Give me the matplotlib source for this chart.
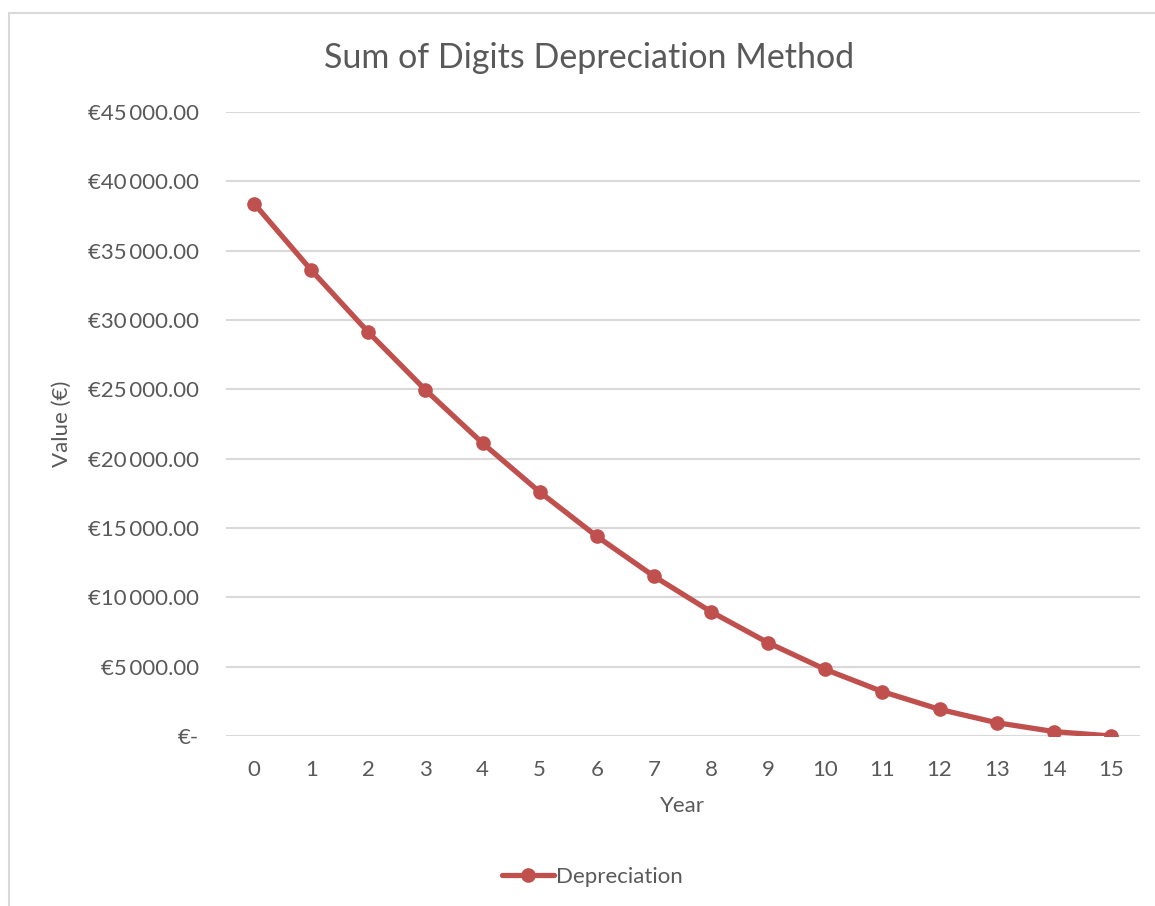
import matplotlib
matplotlib.use("Agg")
import matplotlib.pyplot as plt
from matplotlib.patches import Rectangle
from matplotlib.lines import Line2D

plt.rcParams["font.family"] = ["Lato", "DejaVu Sans"]

# book value at the end of each year, sum-of-years'-digits schedule
years = list(range(16))
book_value = [38400, 33600, 29120, 24960, 21120, 17600, 14400, 11520,
              8960, 6720, 4800, 3200, 1920, 960, 320, 0]
y_ticks = [0, 5000, 10000, 15000, 20000, 25000, 30000, 35000, 40000, 45000]

LINE_RED = "#C0504D"
TEXT_GREY = "#595959"
GRID_GREY = "#D9D9D9"


def euro(v):
    if v == 0:
        return "€-"
    s = f"{v:,.2f}".replace(",", "\u2009")
    return "€" + s


fig = plt.figure(figsize=(11.55, 9.06), dpi=100)

# chart border (left and top edges show inside the canvas)
fig.add_artist(Rectangle((9 / 1155, -0.05), 1.2, 1 - 13 / 906 + 0.05,
                         transform=fig.transFigure, fill=False,
                         edgecolor=GRID_GREY, linewidth=1.5))

ax = fig.add_axes([225.5 / 1155, 1 - 736 / 906, 914 / 1155, 624 / 906])
ax.plot(years, book_value, color=LINE_RED, linewidth=3.8,
        marker="o", markersize=9.5, solid_capstyle="round")

ax.set_xlim(-0.5, 15.5)
ax.set_ylim(0, 45000)
ax.set_xticks(years)
ax.set_xticklabels([str(y) for y in years])
ax.set_yticks(y_ticks)
ax.set_yticklabels([euro(v) for v in y_ticks])
ax.grid(axis="y", color=GRID_GREY, linewidth=1.5)
ax.set_axisbelow(True)
for side in ax.spines.values():
    side.set_visible(False)
ax.tick_params(length=0, labelsize=16, colors=TEXT_GREY)
ax.tick_params(axis="y", pad=19)
ax.tick_params(axis="x", pad=17)

ax.set_xlabel("Year", fontsize=16, color=TEXT_GREY, labelpad=12)
ax.set_ylabel("Value (€)", fontsize=16, color=TEXT_GREY)
ax.yaxis.set_label_coords(-0.168, 0.5)

fig.text(0.510, 1 - 58 / 906, "Sum of Digits Depreciation Method",
         ha="center", va="center", fontsize=24.5, color=TEXT_GREY)

handle = Line2D([], [], color=LINE_RED, linewidth=3.8, marker="o",
                markersize=9.5, solid_capstyle="round")
fig.legend([handle], ["Depreciation"], loc="center",
           bbox_to_anchor=(0.513, 1 - 877 / 906), frameon=False,
           fontsize=16, labelcolor=TEXT_GREY, handlelength=2.3,
           handletextpad=0.1)

fig.savefig("out.png", dpi=100, facecolor="white")
